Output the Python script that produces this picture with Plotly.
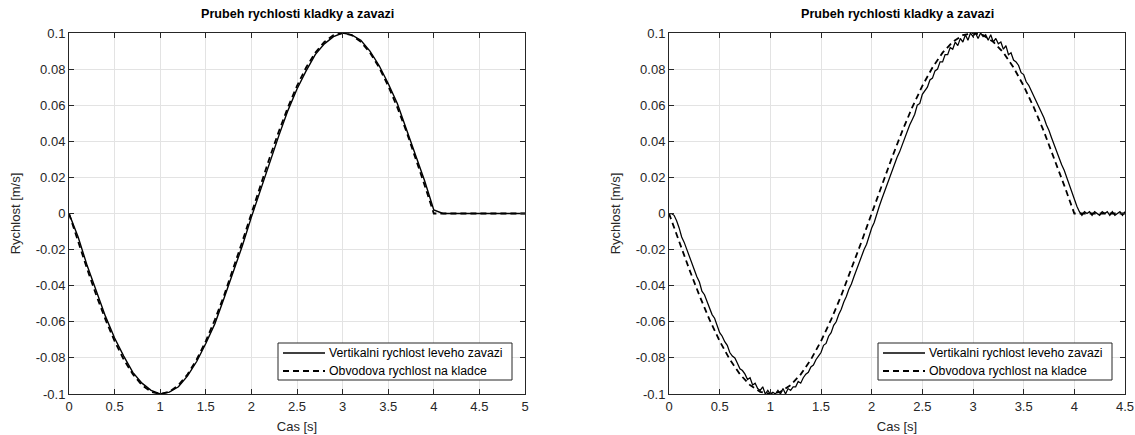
import plotly.graph_objects as go

# ---------------- data ----------------
title_text = "Prubeh rychlosti kladky a zavazi"
x_label = "Cas [s]"
y_label = "Rychlost [m/s]"
legend_solid = "Vertikalni rychlost leveho zavazi"
legend_dashed = "Obvodova rychlost na kladce"

# left chart (0 .. 5 s, step 0.1 s)
t_left = [round(0.1 * i, 2) for i in range(51)]
v_left_dashed = [0, -0.0156, -0.0309, -0.0454, -0.0588, -0.0707, -0.0809, -0.0891, -0.0951, -0.0988,
                 -0.1, -0.0988, -0.0951, -0.0891, -0.0809, -0.0707, -0.0588, -0.0454, -0.0309, -0.0156,
                 0, 0.0156, 0.0309, 0.0454, 0.0588, 0.0707, 0.0809, 0.0891, 0.0951, 0.0988,
                 0.1, 0.0988, 0.0951, 0.0891, 0.0809, 0.0707, 0.0588, 0.0454, 0.0309, 0.0156,
                 0, 0, 0, 0, 0, 0, 0, 0, 0, 0, 0]
v_left_solid = [0, -0.013, -0.029, -0.043, -0.057, -0.069, -0.079, -0.088, -0.094, -0.098,
                -0.100, -0.099, -0.096, -0.090, -0.082, -0.072, -0.061, -0.047, -0.033, -0.018,
                -0.002, 0.013, 0.029, 0.043, 0.057, 0.069, 0.079, 0.088, 0.094, 0.098,
                0.100, 0.099, 0.096, 0.090, 0.082, 0.072, 0.061, 0.047, 0.033, 0.018,
                0.002, 0.000, 0.000, 0.000, 0.000, 0.000, 0.000, 0.000, 0.000, 0.000, 0.000]

# right chart dashed (0 .. 4.5 s, step 0.1 s)
t_right_dashed = [round(0.1 * i, 2) for i in range(46)]
v_right_dashed = [0, -0.0156, -0.0309, -0.0454, -0.0588, -0.0707, -0.0809, -0.0891, -0.0951, -0.0988,
                  -0.1, -0.0988, -0.0951, -0.0891, -0.0809, -0.0707, -0.0588, -0.0454, -0.0309, -0.0156,
                  0, 0.0156, 0.0309, 0.0454, 0.0588, 0.0707, 0.0809, 0.0891, 0.0951, 0.0988,
                  0.1, 0.0988, 0.0951, 0.0891, 0.0809, 0.0707, 0.0588, 0.0454, 0.0309, 0.0156,
                  0, 0, 0, 0, 0, 0]

# right chart solid, measured (0 .. 4.5 s, step 0.025 s)
t_right_solid = [round(0.025 * i, 3) for i in range(181)]
v_right_solid = [
    0.000, 0.000, -0.001, -0.004, -0.008, -0.013, -0.016, -0.020, -0.024, -0.027,
    -0.031, -0.035, -0.038, -0.043, -0.045, -0.049, -0.052, -0.056, -0.058, -0.062,
    -0.066, -0.068, -0.071, -0.073, -0.077, -0.079, -0.080, -0.083, -0.086, -0.087,
    -0.089, -0.092, -0.091, -0.095, -0.094, -0.097, -0.098, -0.096, -0.100, -0.098,
    -0.100, -0.099, -0.100, -0.098, -0.100, -0.097, -0.100, -0.097, -0.098, -0.096,
    -0.096, -0.093, -0.094, -0.091, -0.089, -0.088, -0.085, -0.084, -0.081, -0.079,
    -0.077, -0.073, -0.072, -0.068, -0.066, -0.062, -0.060, -0.056, -0.053, -0.049,
    -0.046, -0.042, -0.039, -0.035, -0.031, -0.028, -0.023, -0.020, -0.017, -0.012,
    -0.008, -0.005, 0.000, 0.004, 0.008, 0.012, 0.016, 0.020, 0.023, 0.028,
    0.031, 0.034, 0.038, 0.042, 0.046, 0.049, 0.052, 0.055, 0.060, 0.061,
    0.066, 0.068, 0.070, 0.074, 0.075, 0.079, 0.080, 0.084, 0.084, 0.088,
    0.088, 0.092, 0.091, 0.095, 0.093, 0.097, 0.095, 0.099, 0.096, 0.100,
    0.098, 0.100, 0.097, 0.100, 0.098, 0.099, 0.096, 0.099, 0.095, 0.097,
    0.094, 0.095, 0.091, 0.093, 0.088, 0.089, 0.085, 0.084, 0.082, 0.078,
    0.077, 0.073, 0.071, 0.068, 0.065, 0.062, 0.059, 0.056, 0.053, 0.049,
    0.046, 0.042, 0.038, 0.035, 0.031, 0.027, 0.024, 0.020, 0.015, 0.012,
    0.008, 0.004, 0.001, -0.001, 0.001, 0.000, 0.001, -0.001, 0.001, 0.000,
    -0.001, 0.001, 0.000, 0.001, -0.001, 0.001, -0.001, 0.000, 0.001, -0.001, 0.001,
]

y_ticks = [-0.1, -0.08, -0.06, -0.04, -0.02, 0, 0.02, 0.04, 0.06, 0.08, 0.1]
y_tick_text = ["-0.1", "-0.08", "-0.06", "-0.04", "-0.02", "0", "0.02", "0.04", "0.06", "0.08", "0.1"]
x_ticks_left = [0, 0.5, 1, 1.5, 2, 2.5, 3, 3.5, 4, 4.5, 5]
x_tick_text_left = ["0", "0.5", "1", "1.5", "2", "2.5", "3", "3.5", "4", "4.5", "5"]
x_ticks_right = [0, 0.5, 1, 1.5, 2, 2.5, 3, 3.5, 4, 4.5]
x_tick_text_right = ["0", "0.5", "1", "1.5", "2", "2.5", "3", "3.5", "4", "4.5"]

# ---------------- figure ----------------
W, H = 1135, 435
ML, MR, MT, MB = 69, 10, 33, 41
PW = W - ML - MR
PH = H - MT - MB
AXW = 456  # plot-area width of each panel in px
left_dom = [0, AXW / PW]
right_dom = [(669 - ML) / PW, 1]

FONT = "Liberation Sans, Arial, Helvetica, sans-serif"
AX = "#262626"
GRID = "#e3e3e3"
DASH = "6px,4px"
SOLID_W = 1.4
DASH_W = 1.8

fig = go.Figure()
fig.add_trace(go.Scatter(x=t_left, y=v_left_solid, mode="lines", name=legend_solid,
                         line=dict(color="black", width=SOLID_W), xaxis="x", yaxis="y"))
fig.add_trace(go.Scatter(x=t_left, y=v_left_dashed, mode="lines", name=legend_dashed,
                         line=dict(color="black", width=DASH_W, dash=DASH), xaxis="x", yaxis="y"))
fig.add_trace(go.Scatter(x=t_right_solid, y=v_right_solid, mode="lines", name=legend_solid,
                         line=dict(color="black", width=1.25), xaxis="x2", yaxis="y2"))
fig.add_trace(go.Scatter(x=t_right_dashed, y=v_right_dashed, mode="lines", name=legend_dashed,
                         line=dict(color="black", width=DASH_W, dash=DASH), xaxis="x2", yaxis="y2"))


def xax(dom, ticks, text, rng, anchor):
    return dict(domain=dom, range=rng, tickvals=ticks, ticktext=text, anchor=anchor,
                showgrid=True, gridcolor=GRID, gridwidth=1, zeroline=False,
                showline=True, linecolor=AX, linewidth=1, mirror="ticks",
                ticks="inside", ticklen=5, tickcolor=AX,
                tickfont=dict(family=FONT, size=13, color=AX),
                title=dict(text=x_label, font=dict(family=FONT, size=13, color=AX), standoff=9))


def yax(ticks, text, anchor):
    return dict(domain=[0, 1], range=[-0.1, 0.1], tickvals=ticks, ticktext=text, anchor=anchor,
                showgrid=True, gridcolor=GRID, gridwidth=1, zeroline=False,
                showline=True, linecolor=AX, linewidth=1, mirror="ticks",
                ticks="inside", ticklen=5, tickcolor=AX,
                tickfont=dict(family=FONT, size=13, color=AX),
                title=dict(text=y_label, font=dict(family=FONT, size=13, color=AX), standoff=12))


# legend box geometry (px offsets inside each plot area, converted to domain fractions)
BOX_X0 = (278 - 69) / AXW
BOX_X1 = (512 - 69) / AXW
BOX_Y0 = (394 - 380) / PH
BOX_Y1 = (394 - 343) / PH
SMP_X0 = (283 - 69) / AXW
SMP_X1 = (325 - 69) / AXW
TXT_X = (327 - 69) / AXW
ROW1_Y = (394 - 353) / PH
ROW2_Y = (394 - 371) / PH

shapes = []
annotations = []
for xs, ys in (("x", "y"), ("x2", "y2")):
    xr, yr = xs + " domain", ys + " domain"
    shapes.append(dict(type="rect", xref=xr, yref=yr, x0=BOX_X0, x1=BOX_X1, y0=BOX_Y0, y1=BOX_Y1,
                       line=dict(color=AX, width=1), fillcolor="white", layer="above"))
    shapes.append(dict(type="line", xref=xr, yref=yr, x0=SMP_X0, x1=SMP_X1, y0=ROW1_Y, y1=ROW1_Y,
                       line=dict(color="black", width=SOLID_W), layer="above"))
    shapes.append(dict(type="line", xref=xr, yref=yr, x0=SMP_X0, x1=SMP_X1, y0=ROW2_Y, y1=ROW2_Y,
                       line=dict(color="black", width=DASH_W, dash=DASH), layer="above"))
    for txt, yy in ((legend_solid, ROW1_Y), (legend_dashed, ROW2_Y)):
        annotations.append(dict(text=txt, xref=xr, yref=yr, x=TXT_X, y=yy, xanchor="left",
                                yanchor="middle", showarrow=False,
                                font=dict(family=FONT, size=12.3, color="black")))

for dom in (left_dom, right_dom):
    annotations.append(dict(text="<b>" + title_text + "</b>", x=sum(dom) / 2, y=1, xref="paper",
                            yref="paper", xanchor="center", yanchor="bottom", yshift=10,
                            showarrow=False, font=dict(family=FONT, size=12.6, color="black")))

fig.update_layout(
    width=W, height=H,
    margin=dict(l=ML, r=MR, t=MT, b=MB, autoexpand=False),
    paper_bgcolor="white", plot_bgcolor="white",
    xaxis=xax(left_dom, x_ticks_left, x_tick_text_left, [0, 5], "y"),
    yaxis=yax(y_ticks, y_tick_text, "x"),
    xaxis2=xax(right_dom, x_ticks_right, x_tick_text_right, [0, 4.5], "y2"),
    yaxis2=yax(y_ticks, y_tick_text, "x2"),
    showlegend=False,
    shapes=shapes,
    annotations=annotations,
)

fig.write_html("out.html")
